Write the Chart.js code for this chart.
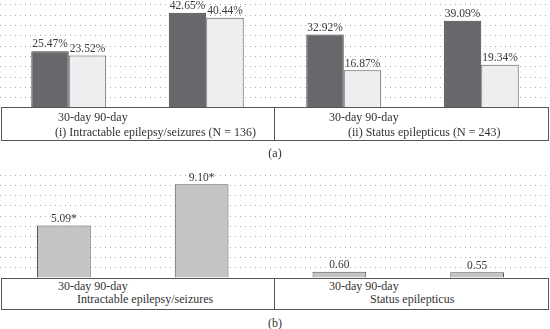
<!DOCTYPE html>
<html lang="en">
<head>
  <meta charset="UTF-8">
  <title>Readmission rates and ratios</title>
  <style>
    body { margin: 0; background: #fff; width: 550px; height: 329px; overflow: hidden; position: relative; font-family: "Liberation Serif", "DejaVu Serif", serif; color: #333; }
    canvas { position: absolute; }
    .box { position: absolute; left: 1px; width: 546px; border: 1px solid #555; background: #fff; box-sizing: content-box; }
    .divider { position: absolute; width: 1px; background: #555; }
    .txt { position: absolute; font-size: 12px; line-height: 14px; white-space: nowrap; color: #333; }
  </style>
</head>
<body>
  <canvas id="chartA" width="550" height="108" style="left:0;top:0"></canvas>
  <canvas id="chartB" width="551" height="110" style="left:-5px;top:168px"></canvas>
  <div id="labels"></div>

  <script src="https://cdn.jsdelivr.net/npm/chart.js"></script>
  <script>
    // panel (a): 30-day / 90-day rates per group
    const categoriesA = ['(i) 30-day', '(i) 90-day', '(ii) 30-day', '(ii) 90-day'];
    const darkValues = [25.47, 42.65, 32.92, 39.09];
    const lightValues = [23.52, 40.44, 16.87, 19.34];

    // panel (b): ratios
    const categoriesB = ['(i) 30-day', '(i) 90-day', '(ii) 30-day', '(ii) 90-day'];
    const ratioValues = [5.09, 9.10, 0.60, 0.55];
    const ratioText = ['5.09*', '9.10*', '0.60', '0.55'];

    const periodText = '30-day 90-day';
    const groupTextA = ['(i) Intractable epilepsy/seizures (N = 136)', '(ii) Status epilepticus (N = 243)'];
    const groupTextB = ['Intractable epilepsy/seizures', 'Status epilepticus'];

    // text above each bar
    const valueLabels = {
      id: 'valueLabels',
      afterDatasetsDraw(chart) {
        const ctx = chart.ctx;
        ctx.save();
        ctx.font = '11.5px "Liberation Serif", "DejaVu Serif", serif';
        ctx.fillStyle = '#3a3a3a';
        ctx.textAlign = 'center';
        ctx.textBaseline = 'bottom';
        chart.data.datasets.forEach((ds, i) => {
          chart.getDatasetMeta(i).data.forEach((bar, j) => {
            ctx.fillText(ds.labelText[j], bar.x, bar.y - 1);
          });
        });
        ctx.restore();
      }
    };

    // hidden y axis, only its dotted grid shows
    function yAxis(max, step) {
      return {
        min: 0,
        max: max,
        ticks: { display: false, stepSize: step, includeBounds: false },
        border: { display: false, dash: [1, 4] },
        grid: { color: '#ababab', drawTicks: false, tickLength: 0 },
        afterFit: (scale) => { scale.width = 0; }
      };
    }

    const baseOptions = (yMax, yStep, catPct) => ({
      responsive: false,
      animation: false,
      layout: { padding: 0 },
      plugins: { legend: { display: false }, tooltip: { enabled: false } },
      datasets: { bar: { categoryPercentage: catPct, barPercentage: 1 } },
      scales: {
        x: { display: false },
        y: yAxis(yMax, yStep)
      }
    });

    new Chart(document.getElementById('chartA'), {
      type: 'bar',
      data: {
        labels: categoriesA,
        datasets: [{
          data: darkValues,
          labelText: darkValues.map(v => v.toFixed(2) + '%'),
          backgroundColor: '#68686c',
          borderColor: '#404040',
          borderWidth: 1
        }, {
          data: lightValues,
          labelText: lightValues.map(v => v.toFixed(2) + '%'),
          backgroundColor: '#eeeef0',
          borderColor: '#555555',
          borderWidth: 1
        }]
      },
      options: baseOptions(48.4, 4.62, 0.545),
      plugins: [valueLabels]
    });

    new Chart(document.getElementById('chartB'), {
      type: 'bar',
      data: {
        labels: categoriesB,
        datasets: [{
          data: ratioValues,
          labelText: ratioText,
          backgroundColor: '#c4c4c4',
          borderColor: '#555555',
          borderWidth: 1
        }]
      },
      options: baseOptions(10.68, 1, 0.39),
      plugins: [valueLabels]
    });

    // boxes with the group names under each panel
    const holder = document.getElementById('labels');
    function addBox(top, height, groups, periodTop, groupTop, groupLeft, caption, captionTop) {
      holder.insertAdjacentHTML('beforeend',
        `<div class="box" style="top:${top}px;height:${height}px"></div>` +
        `<div class="divider" style="left:274px;top:${top}px;height:${height + 1}px"></div>` +
        `<div class="txt" style="left:58px;top:${periodTop}px">${periodText}</div>` +
        `<div class="txt" style="left:329px;top:${periodTop}px">${periodText}</div>` +
        `<div class="txt" style="left:${groupLeft[0]}px;top:${groupTop}px">${groups[0]}</div>` +
        `<div class="txt" style="left:${groupLeft[1]}px;top:${groupTop}px">${groups[1]}</div>` +
        `<div class="txt" style="left:0;width:550px;text-align:center;top:${captionTop}px">${caption}</div>`);
    }
    addBox(107, 32, groupTextA, 110, 125, [55, 348], '(a)', 146);
    addBox(278, 30, groupTextB, 279, 292, [77, 370], '(b)', 316);
  </script>
</body>
</html>
